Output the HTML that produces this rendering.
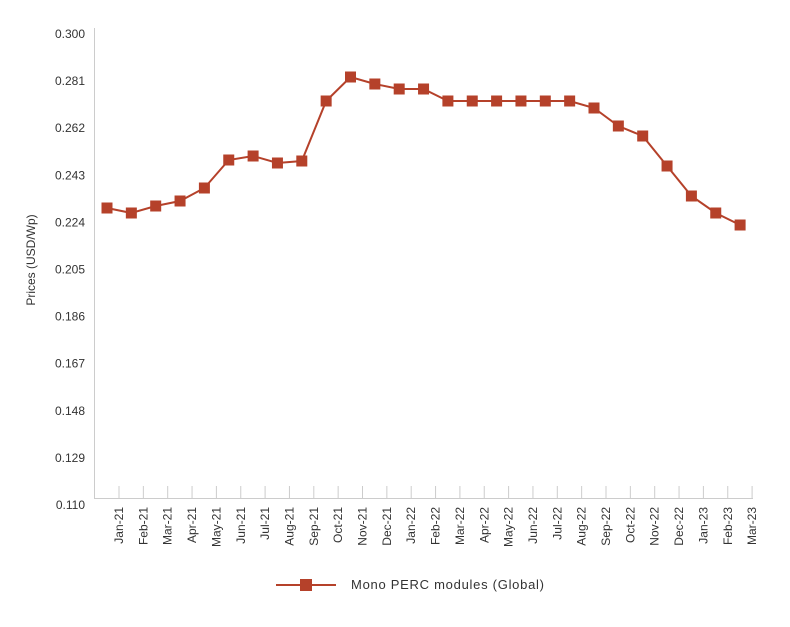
<!DOCTYPE html>
<html><head><style>body{margin:0;background:#fff}svg{display:block}</style></head><body>
<svg width="790" height="627" xmlns="http://www.w3.org/2000/svg" font-family="Liberation Sans, sans-serif" fill="#333">
<line x1="94.5" y1="28" x2="94.5" y2="498" stroke="#ccc"/>
<line x1="94" y1="498.5" x2="753" y2="498.5" stroke="#ccc"/>
<g font-size="12" text-anchor="end" id="yl"></g>
<g id="xl" font-size="12"></g>
<text transform="translate(35,260) rotate(-90)" text-anchor="middle" font-size="12">Prices (USD/Wp)</text>
<g id="s"></g>
<line x1="276" y1="585" x2="336" y2="585" stroke="#b5412a" stroke-width="2"/>
<rect x="300" y="579" width="12" height="12" fill="#b5412a"/>
<text x="351" y="589" font-size="13" textLength="193" lengthAdjust="spacing">Mono PERC modules (Global)</text>
<script>
var ns="http://www.w3.org/2000/svg";
function el(p,t,a,tx){var e=document.createElementNS(ns,t);for(var k in a)e.setAttribute(k,a[k]);if(tx)e.textContent=tx;p.appendChild(e);return e;}
var yl=document.getElementById('yl');
var v=["0.300","0.281","0.262","0.243","0.224","0.205","0.186","0.167","0.148","0.129","0.110"];
for(var i=0;i<11;i++)el(yl,'text',{x:85,y:38+i*47.1},v[i]);
var m=["Jan","Feb","Mar","Apr","May","Jun","Jul","Aug","Sep","Oct","Nov","Dec"];
var xl=document.getElementById('xl');
for(var i=0;i<27;i++){var x=119+i*24.35;var lab=m[i%12]+"-"+(21+Math.floor(i/12));
el(xl,'line',{x1:x,y1:486,x2:x,y2:498,stroke:'#ccc'});
el(xl,'text',{transform:'translate('+(x+4)+',507) rotate(-90)','text-anchor':'end'},lab);}
var ys=[208,213,206,201,188,160,156,163,161,101,77,84,89,89,101,101,101,101,101,101,108,126,136,166,196,213,225];
var s=document.getElementById('s');var pts=[];
for(var i=0;i<27;i++)pts.push((107+i*24.35)+","+ys[i]);
el(s,'polyline',{points:pts.join(' '),fill:'none',stroke:'#b5412a','stroke-width':2});
for(var i=0;i<27;i++)el(s,'rect',{x:107+i*24.35-5.5,y:ys[i]-5.5,width:11,height:11,fill:'#b5412a'});
</script>
</svg>
</body></html>
